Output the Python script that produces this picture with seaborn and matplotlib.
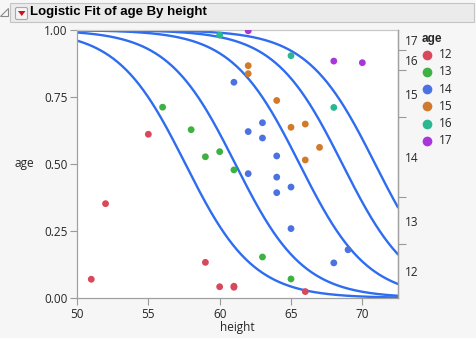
import numpy as np
import pandas as pd
import matplotlib
matplotlib.use("Agg")
import matplotlib.pyplot as plt
from matplotlib.patches import Rectangle, Polygon, FancyBboxPatch
from matplotlib.lines import Line2D
import seaborn as sns

# ---------------- data ----------------
age_levels = [12, 13, 14, 15, 16, 17]
age_colors = ["#d6485a", "#3db142", "#4a72e0", "#d27a2b", "#2ab893", "#a737d8"]

heights_12 = [51, 52, 55, 59, 60, 61, 61, 66]
ypos_12 = [0.070, 0.352, 0.611, 0.133, 0.042, 0.044, 0.040, 0.024]
heights_13 = [56, 58, 59, 60, 61, 63, 65]
ypos_13 = [0.712, 0.628, 0.527, 0.546, 0.478, 0.153, 0.071]
heights_14 = [61, 62, 62, 63, 63, 64, 64, 64, 65, 65, 68, 69]
ypos_14 = [0.805, 0.621, 0.464, 0.654, 0.597, 0.530, 0.451, 0.393, 0.414, 0.259, 0.131, 0.180]
heights_15 = [62, 62, 64, 65, 66, 66, 67]
ypos_15 = [0.867, 0.837, 0.737, 0.637, 0.649, 0.515, 0.562]
heights_16 = [60, 65, 68]
ypos_16 = [0.981, 0.904, 0.711]
heights_17 = [62, 68, 70]
ypos_17 = [0.997, 0.884, 0.878]

# cumulative boundaries shown on right axis (proportion of each age)
age_counts = [8, 7, 12, 7, 3, 3]

# ordinal logistic fit: common slope and 50% heights
fit_slope = 0.42
fit_midpoints = [57.6, 61.1, 65.6, 68.6, 70.9]

x_min, x_max = 50, 72.5

# ---------------- frames ----------------
rows = []
for lvl, hs, ys in zip(age_levels,
                       [heights_12, heights_13, heights_14, heights_15, heights_16, heights_17],
                       [ypos_12, ypos_13, ypos_14, ypos_15, ypos_16, ypos_17]):
    for h, y in zip(hs, ys):
        rows.append({"height": h, "prob": y, "age": str(lvl)})
pts = pd.DataFrame(rows)

xg = np.linspace(x_min, x_max, 300)
crows = []
for i, c in enumerate(fit_midpoints):
    p = 1.0 / (1.0 + np.exp(fit_slope * (xg - c)))
    for xv, pv in zip(xg, p):
        crows.append({"height": xv, "prob": pv, "curve": i})
curves = pd.DataFrame(crows)

# ---------------- figure ----------------
sns.set_style("white")
plt.rcParams["font.family"] = ["Open Sans", "DejaVu Sans"]

W, H = 476, 338
fig = plt.figure(figsize=(W / 100, H / 100), dpi=100)
fig.patch.set_facecolor("#f6f6f6")

def fx(px):
    return px / W

def fy(py):
    return 1 - py / H

# title bar
fig.patches.append(Rectangle((fx(10), fy(22)), fx(464), 19 / H, transform=fig.transFigure,
                             facecolor="#ebebeb", edgecolor="#c4c4c4", lw=0.8))
fig.patches.append(FancyBboxPatch((fx(15.5), fy(19.5)), fx(12), 12 / H, transform=fig.transFigure,
                                  boxstyle="round,pad=0,rounding_size=0.004",
                                  facecolor="#f4f4f4", edgecolor="#a8a8a8", lw=0.8))
fig.patches.append(Polygon([(fx(18), fy(11)), (fx(25.5), fy(11)), (fx(21.75), fy(16))],
                           closed=True, transform=fig.transFigure, facecolor="#d0101a", edgecolor="none"))
fig.patches.append(Polygon([(fx(8.5), fy(8.5)), (fx(8.5), fy(16.5)), (fx(0.5), fy(16.5))],
                           closed=True, transform=fig.transFigure, facecolor="none",
                           edgecolor="#8a8a8a", lw=0.8))
fig.text(fx(30), fy(12.5), "Logistic Fit of age By height", fontsize=9.5, fontweight="bold",
         va="center", ha="left", color="black", family=["Liberation Sans", "DejaVu Sans"])

ax = fig.add_axes([fx(77), fy(298), fx(398 - 77), 268 / H])
ax.set_facecolor("white")

sns.lineplot(data=curves, x="height", y="prob", units="curve", estimator=None,
             color="#2e6cf0", lw=1.7, ax=ax, legend=False)
sns.scatterplot(data=pts, x="height", y="prob", hue="age",
                hue_order=[str(a) for a in age_levels], palette=age_colors,
                s=24, edgecolor="none", ax=ax, legend=False, zorder=3)

ax.set_xlim(x_min, x_max)
ax.set_ylim(0, 1)
ax.set_xticks([50, 55, 60, 65, 70])
ax.set_xticks([52.5, 57.5, 62.5, 67.5, 72.5], minor=True)
ax.set_yticks([0, 0.25, 0.5, 0.75, 1.0])
ax.set_yticklabels(["0.00", "0.25", "0.50", "0.75", "1.00"])
ax.tick_params(axis="both", which="major", length=5, width=0.8, color="#9a9a9a",
               labelsize=8.5, pad=2, direction="out")
ax.tick_params(axis="x", which="minor", length=3, width=0.8, color="#9a9a9a", direction="out")
ax.tick_params(axis="both", left=True, bottom=True)
for side in ["left", "bottom", "right", "top"]:
    ax.spines[side].set_visible(True)
    ax.spines[side].set_color("#a0a0a0")
    ax.spines[side].set_linewidth(0.9)
ax.spines["top"].set_color("#c8c8c8")
ax.set_xlabel("")
ax.set_ylabel("")

# right axis with cumulative proportions
ax2 = ax.twinx()
ax2.set_ylim(0, 1)
cum = np.cumsum(age_counts) / np.sum(age_counts)
bounds = list(cum[:-1])
mids = list((np.concatenate([[0], cum[:-1]]) + cum) / 2)
ax2.set_yticks(bounds)
ax2.set_yticklabels([])
ax2.set_yticks(mids, minor=True)
ax2.set_yticklabels([str(a) for a in age_levels], minor=True)
ax2.tick_params(axis="y", which="major", length=6, width=0.8, color="#9a9a9a", direction="out")
ax2.tick_params(axis="y", which="minor", length=0, labelsize=8.5, pad=5)
for side in ["left", "bottom", "top"]:
    ax2.spines[side].set_visible(False)
ax2.spines["right"].set_color("#a0a0a0")
ax2.spines["right"].set_linewidth(0.9)

# axis titles
fig.text(fx(237), fy(327), "height", fontsize=8.5, ha="center", va="center")
fig.text(fx(24), fy(164), "age", fontsize=8.5, ha="center", va="center")

# legend
fig.text(fx(422), fy(39), "age", fontsize=8.5, fontweight="bold", ha="left", va="center",
         family=["Liberation Sans", "DejaVu Sans"])
for i, (lvl, col) in enumerate(zip(age_levels, age_colors)):
    yy = 54.5 + i * 17.3
    fig.lines.append(Line2D([fx(427.3)], [fy(yy)], marker="o", markersize=7,
                            markerfacecolor=col, markeredgecolor="none",
                            transform=fig.transFigure))
    fig.text(fx(439), fy(yy), str(lvl), fontsize=8.5, ha="left", va="center")

fig.savefig("out.png", dpi=100, facecolor=fig.get_facecolor())
